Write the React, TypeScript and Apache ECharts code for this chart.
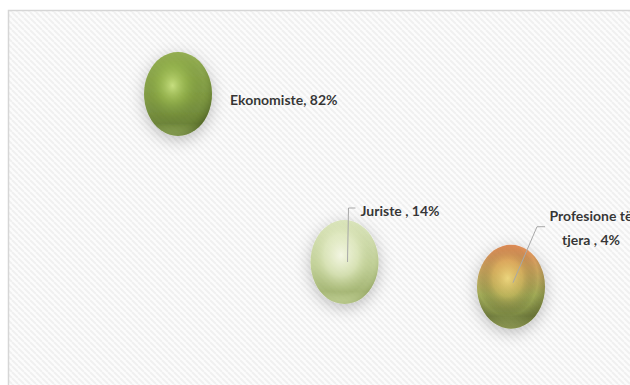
import React, { useEffect, useRef } from "react";
import * as echarts from "echarts";

const categories = ["Ekonomiste", "Juriste", "Profesione të tjera"];
const xPositions = [1, 2, 3];
const percentValues = [82, 14, 4];
const labelTexts = ["Ekonomiste, 82%", "Juriste , 14%", "Profesione të\ntjera , 4%"];

function makePattern(): string {
  const c = document.createElement("canvas");
  c.width = 6;
  c.height = 6;
  const ctx = c.getContext("2d")!;
  ctx.fillStyle = "#fcfcfc";
  ctx.fillRect(0, 0, 6, 6);
  ctx.strokeStyle = "#f0f0f0";
  ctx.lineWidth = 2;
  for (let k = -1; k <= 1; k++) {
    ctx.beginPath();
    ctx.moveTo(k * 6, 0);
    ctx.lineTo(k * 6 + 6, 6);
    ctx.stroke();
  }
  return c.toDataURL();
}

const lin = (stops: [number, string][]) => ({
  type: "linear", x: 0, y: 0, x2: 0, y2: 1,
  colorStops: stops.map(([offset, color]) => ({ offset, color })),
});
const rad = (x: number, y: number, r: number, stops: [number, string][]) => ({
  type: "radial", x, y, r,
  colorStops: stops.map(([offset, color]) => ({ offset, color })),
});

const baseFills = [
  lin([[0, "#80a030"], [0.55, "#6a8a22"], [0.85, "#56721a"], [1, "#93b050"]]),
  lin([[0, "#d6e2b2"], [0.55, "#b8ca86"], [0.85, "#9aae60"], [1, "#c0d28c"]]),
  lin([[0, "#e87a38"], [0.3, "#c49640"], [0.6, "#94a03a"], [0.85, "#687824"], [1, "#a0b052"]]),
];
const highlightFills = [
  rad(0.42, 0.4, 0.62, [[0, "rgba(225,248,150,0.9)"], [0.35, "rgba(170,205,85,0.45)"], [0.72, "rgba(110,140,40,0)"], [1, "rgba(40,55,5,0.45)"]]),
  rad(0.45, 0.42, 0.62, [[0, "rgba(255,255,245,1)"], [0.4, "rgba(242,248,215,0.6)"], [0.75, "rgba(200,215,150,0)"], [1, "rgba(90,110,40,0.4)"]]),
  rad(0.45, 0.4, 0.62, [[0, "rgba(255,232,140,0.9)"], [0.35, "rgba(238,195,100,0.4)"], [0.72, "rgba(0,0,0,0)"], [1, "rgba(50,55,5,0.4)"]]),
];
const labelPositions: any[] = [[86, 48], [50, -10], [114, -17]];
const labelAligns = ["left", "left", "center"];

export default function App() {
  const ref = useRef<HTMLDivElement>(null);
  useEffect(() => {
    if (!ref.current) return;
    const chart = echarts.init(ref.current, null, { renderer: "svg" });
    const pattern = makePattern();
    const sym: any = [68, 84];
    const baseData = xPositions.map((x, i) => ({
      name: categories[i],
      value: [x, percentValues[i]],
      itemStyle: { color: baseFills[i] },
    }));
    const hiData = xPositions.map((x, i) => ({
      name: categories[i],
      value: [x, percentValues[i]],
      itemStyle: { color: highlightFills[i] },
      label: {
        show: true,
        formatter: labelTexts[i],
        position: labelPositions[i],
        align: labelAligns[i],
        verticalAlign: "middle",
      },
    }));
    const frame = {
      type: "rect",
      z: -10,
      silent: true,
      shape: { x: 8.5, y: 10.5, width: 660, height: 420 },
      style: { fill: { image: pattern, repeat: "repeat" }, stroke: "#d6d6d6", lineWidth: 1.5 },
    };
    const option: any = {
      animation: false,
      graphic: [frame],
      grid: { left: 11.5, right: 35.75, top: 49.5, bottom: 88.4 },
      xAxis: { type: "value", min: 0, max: 3.5, show: false },
      yAxis: { type: "value", min: 0, max: 100, show: false },
      series: [
        {
          type: "scatter",
          symbol: "circle",
          symbolSize: sym,
          data: baseData,
          itemStyle: {
            shadowBlur: 16,
            shadowColor: "rgba(0,0,0,0.3)",
            shadowOffsetY: 4,
          },
          z: 2,
        },
        {
          type: "scatter",
          symbol: "circle",
          symbolSize: sym,
          data: hiData,
          z: 3,
          label: {
            fontFamily: "Lato",
            fontWeight: "bold",
            fontSize: 14,
            color: "#000",
            lineHeight: 24,
          },
        },
      ],
    };
    chart.setOption(option);
    const pj = chart.convertToPixel({ seriesIndex: 0 }, [xPositions[1], percentValues[1]]) as number[];
    const pp = chart.convertToPixel({ seriesIndex: 0 }, [xPositions[2], percentValues[2]]) as number[];
    chart.setOption({
      graphic: [
        frame,
        {
          type: "polyline",
          z: 100,
          silent: true,
          shape: { points: [[pj[0] + 11, pj[1] - 54], [pj[0] + 4, pj[1] - 54], [pj[0] + 3, pj[1]]] },
          style: { stroke: "#a8a8a8", lineWidth: 1, fill: null },
        },
        {
          type: "polyline",
          z: 100,
          silent: true,
          shape: { points: [[pp[0] + 34, pp[1] - 60], [pp[0] + 26, pp[1] - 60], [pp[0] + 2, pp[1] - 4]] },
          style: { stroke: "#a8a8a8", lineWidth: 1, fill: null },
        },
      ],
    });
    return () => chart.dispose();
  }, []);
  return (
    <div
      ref={ref}
      style={{ position: "absolute", left: 0, top: 0, width: 630, height: 385 }}
    />
  );
}
